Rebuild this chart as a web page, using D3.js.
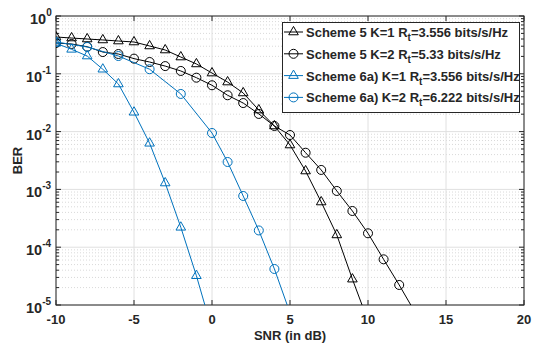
<!DOCTYPE html>
<html>
<head>
<meta charset="utf-8">
<script src="https://cdn.jsdelivr.net/npm/d3@7"></script>
<style>
  body { margin: 0; background: #fff; }
  text { font-family: "Liberation Sans", Arial, sans-serif; font-weight: bold; fill: #262626; }
</style>
</head>
<body>
<script>
// BER vs SNR
const snrA = [-10, -9, -8, -7, -6, -5, -4, -3, -2, -1, 0, 1, 2, 3, 4, 5, 6, 7, 8, 9, 10];
const berS5K1 = [0.433, 0.416, 0.40, 0.385, 0.369, 0.355, 0.303, 0.258, 0.195, 0.148, 0.103,
  0.072, 0.0466, 0.0236, 0.0125, 0.00586, 0.00208, 6.05e-4, 1.63e-4, 2.8e-5, 5.3e-6];

const snrB = [-10, -9, -8, -7, -6, -5, -4, -3, -2, -1, 0, 1, 2, 3, 4, 5, 6, 7, 8, 9, 10, 11, 12, 13];
const berS5K2 = [0.341, 0.328, 0.294, 0.238, 0.22, 0.183, 0.16, 0.136, 0.112, 0.0857, 0.0633,
  0.0425, 0.0312, 0.0202, 0.0125, 0.00873, 0.00431, 0.00217, 9.4e-4, 4.23e-4, 1.74e-4,
  6.17e-5, 2.22e-5, 7.6e-6];

const snrC = [-10, -9, -8, -7, -6, -5, -4, -3, -2, -1, 0];
const berS6K1 = [0.337, 0.265, 0.203, 0.12, 0.0666, 0.0216, 0.00628, 0.00129, 2.21e-4, 3.21e-5, 3.75e-6];

const snrD = [-10, -8, -6, -4, -2, 0, 1, 2, 3, 4, 5];
const berS6K2 = [0.355, 0.291, 0.203, 0.12, 0.0448, 0.00946, 0.00298, 7.69e-4, 1.95e-4, 4.2e-5, 7.3e-6];

const xTicks = [-10, -5, 0, 5, 10, 15, 20];
const yExps = [0, -1, -2, -3, -4, -5];
const legendText = [
  ["Scheme 5 K=1 R", "t", "=3.556 bits/s/Hz"],
  ["Scheme 5 K=2 R", "t", "=5.33 bits/s/Hz"],
  ["Scheme 6a) K=1 R", "t", "=3.556 bits/s/Hz"],
  ["Scheme 6a) K=2 R", "t", "=6.222 bits/s/Hz"]
];

const blue = "#0072BD";
const series = [
  { x: snrA, y: berS5K1, color: "#000", marker: "tri" },
  { x: snrB, y: berS5K2, color: "#000", marker: "circ" },
  { x: snrC, y: berS6K1, color: blue, marker: "tri" },
  { x: snrD, y: berS6K2, color: blue, marker: "circ" }
];

const W = 533, H = 343;
const pL = 56, pR = 524, pT = 16, pB = 305;

const svg = d3.select("body").append("svg").attr("width", W).attr("height", H);

const x = d3.scaleLinear().domain([-10, 20]).range([pL, pR]);
const y = d3.scaleLog().domain([1e-5, 1]).range([pB, pT]);

svg.append("defs").append("clipPath").attr("id", "clip")
  .append("rect").attr("x", pL).attr("y", pT).attr("width", pR - pL).attr("height", pB - pT);

// grid
const minor = [];
yExps.slice(0, -1).forEach(e => { for (let k = 2; k <= 9; k++) minor.push(k * Math.pow(10, e - 1)); });
const grid = svg.append("g");
grid.selectAll(".ymin").data(minor).join("line")
  .attr("x1", pL).attr("x2", pR).attr("y1", d => y(d)).attr("y2", d => y(d))
  .attr("stroke", "#d9d9d9").attr("stroke-dasharray", "1,2").attr("stroke-width", 1);
grid.selectAll(".ymaj").data(yExps).join("line")
  .attr("x1", pL).attr("x2", pR).attr("y1", d => y(Math.pow(10, d))).attr("y2", d => y(Math.pow(10, d)))
  .attr("stroke", "#e0e0e0");
grid.selectAll(".xmaj").data(xTicks).join("line")
  .attr("x1", d => x(d)).attr("x2", d => x(d)).attr("y1", pT).attr("y2", pB)
  .attr("stroke", "#e0e0e0");

// axes with inward ticks on all four sides
const axisColor = "#262626";
function tickLines(g, data, fn) { g.selectAll(null).data(data).join("line").each(fn).attr("stroke", axisColor); }
const ax = svg.append("g");
tickLines(ax, xTicks, function (d) {
  d3.select(this).attr("x1", x(d)).attr("x2", x(d)).attr("y1", pB).attr("y2", pB - 5);
});
tickLines(ax, xTicks, function (d) {
  d3.select(this).attr("x1", x(d)).attr("x2", x(d)).attr("y1", pT).attr("y2", pT + 5);
});
tickLines(ax, yExps, function (d) {
  d3.select(this).attr("x1", pL).attr("x2", pL + 5).attr("y1", y(Math.pow(10, d))).attr("y2", y(Math.pow(10, d)));
});
tickLines(ax, yExps, function (d) {
  d3.select(this).attr("x1", pR).attr("x2", pR - 5).attr("y1", y(Math.pow(10, d))).attr("y2", y(Math.pow(10, d)));
});
tickLines(ax, minor, function (d) {
  d3.select(this).attr("x1", pL).attr("x2", pL + 3).attr("y1", y(d)).attr("y2", y(d));
});
tickLines(ax, minor, function (d) {
  d3.select(this).attr("x1", pR).attr("x2", pR - 3).attr("y1", y(d)).attr("y2", y(d));
});
ax.append("rect").attr("x", pL).attr("y", pT).attr("width", pR - pL).attr("height", pB - pT)
  .attr("fill", "none").attr("stroke", axisColor).attr("stroke-width", 1);

// tick labels
svg.selectAll(".xl").data(xTicks).join("text")
  .attr("x", d => x(d)).attr("y", pB + 19).attr("text-anchor", "middle")
  .attr("font-size", 13).text(d => d);

const yl = svg.selectAll(".yl").data(yExps).join("text")
  .attr("y", d => y(Math.pow(10, d)) + 8).attr("font-size", 14.5);
yl.each(function (d) {
  const t = d3.select(this);
  const ex = String(d);
  const exW = ex.length > 1 ? 10 : 6;
  t.attr("x", 52 - exW - 16);
  t.append("tspan").text("10");
  t.append("tspan").attr("font-size", 10).attr("dy", -8).text(ex);
});

// axis labels
svg.append("text").attr("x", (pL + pR) / 2).attr("y", 340).attr("text-anchor", "middle")
  .attr("font-size", 13).text("SNR (in dB)");
svg.append("text").attr("transform", `translate(22,${(pT + pB) / 2}) rotate(-90)`)
  .attr("text-anchor", "middle").attr("font-size", 13).text("BER");

// data
const line = d3.line().x(d => x(d[0])).y(d => y(d[1]));
const tri = d3.symbol().type(d3.symbolTriangle).size(40);
function drawMarker(g, m, cx, cy, color) {
  if (m === "circ") {
    g.append("circle").attr("cx", cx).attr("cy", cy).attr("r", 4.5)
      .attr("fill", "none").attr("stroke", color).attr("stroke-width", 1);
  } else {
    g.append("path").attr("d", tri()).attr("transform", `translate(${cx},${cy})`)
      .attr("fill", "none").attr("stroke", color).attr("stroke-width", 1);
  }
}
const plot = svg.append("g").attr("clip-path", "url(#clip)");
series.forEach(s => {
  const pts = s.x.map((v, i) => [v, s.y[i]]);
  plot.append("path").datum(pts).attr("d", line)
    .attr("fill", "none").attr("stroke", s.color).attr("stroke-width", 1);
  pts.forEach(p => drawMarker(plot, s.marker, x(p[0]), y(p[1]), s.color));
});

// legend
const lg = svg.append("g");
lg.append("rect").attr("x", 282.5).attr("y", 22.5).attr("width", 237).attr("height", 90)
  .attr("fill", "#fff").attr("stroke", axisColor).attr("stroke-width", 1);
series.forEach((s, i) => {
  const cy = 32 + i * 21.8;
  lg.append("line").attr("x1", 284).attr("x2", 303).attr("y1", cy).attr("y2", cy)
    .attr("stroke", s.color).attr("stroke-width", 1);
  drawMarker(lg, s.marker, 293.5, cy, s.color);
  const t = lg.append("text").attr("x", 306).attr("y", cy + 5).attr("font-size", 13);
  t.append("tspan").text(legendText[i][0]);
  t.append("tspan").attr("font-size", 10).attr("dy", 4).text(legendText[i][1]);
  t.append("tspan").attr("dy", -4).text(legendText[i][2]);
});
</script>
</body>
</html>
